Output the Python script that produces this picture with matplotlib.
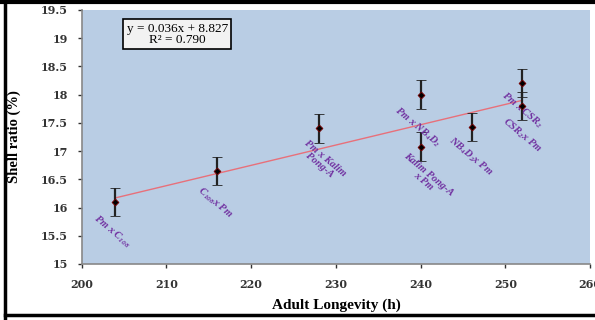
import matplotlib.pyplot as plt
from matplotlib.lines import Line2D

plt.rcParams["mathtext.fontset"] = "custom"
plt.rcParams["mathtext.rm"] = "Liberation Serif:italic:bold"
plt.rcParams["mathtext.it"] = "Liberation Serif:italic:bold"

# adult longevity (h) vs shell ratio (%) for each cross
longevity = [204, 216, 228, 240, 240, 246, 252, 252]
shell_ratio = [16.1, 16.65, 17.4, 18.0, 17.08, 17.42, 18.2, 17.8]
shell_err = [0.25, 0.25, 0.25, 0.25, 0.25, 0.25, 0.25, 0.25]

cross_names = [r"Pm x C$_{108}$", r"C$_{108}$x Pm", "Pm x Kalim\nPong-A",
               r"Pm x NB$_4$D$_2$", "Kalim Pong-A\nx Pm", r"NB$_4$D$_2$x Pm",
               r"Pm x CSR$_2$", r"CSR$_2$x Pm"]
name_x = [203.6, 215.8, 228.4, 239.6, 240.6, 245.9, 252.0, 252.0]
name_y = [15.57, 16.08, 16.81, 17.43, 16.52, 16.90, 17.73, 17.28]

slope, intercept, r2 = 0.036, 8.827, 0.790

fig = plt.figure(figsize=(5.95, 3.2), dpi=100)
ax = fig.add_axes([0.137, 0.175, 0.855, 0.794])
ax.set_facecolor("#b9cde4")

x0, x1 = min(longevity), max(longevity)
ax.plot([x0, x1], [slope * x0 + intercept, slope * x1 + intercept],
        color="#e8707a", lw=1.0, zorder=2)
ax.errorbar(longevity, shell_ratio, yerr=shell_err, fmt="D", ms=3.5,
            color="black", mec="#7a0000", mew=0.6, ecolor="#222222",
            elinewidth=1.6, capsize=3.5, capthick=1.2, zorder=3)

for t, x, y in zip(cross_names, name_x, name_y):
    ax.text(x, y, t, rotation=-40, rotation_mode="anchor", ha="center",
            va="center", fontsize=7.5, color="#7030a0", style="italic",
            weight="bold", family="Liberation Serif", linespacing=1.0)

ax.text(0.188, 0.905, f"y = {slope:.3f}x + {intercept:.3f}\nR² = {r2:.3f}",
        transform=ax.transAxes, ha="center", va="center", fontsize=9.5,
        family="Liberation Serif", linespacing=0.9,
        bbox=dict(boxstyle="square,pad=0.25", fc="#f2f2f2", ec="black", lw=1.2))

ax.set_xlim(200, 260)
ax.set_ylim(15, 19.5)
ax.set_xticks(range(200, 261, 10))
ax.set_yticks([15 + 0.5 * i for i in range(10)])
ax.set_yticklabels(["15", "15.5", "16", "16.5", "17", "17.5", "18", "18.5", "19", "19.5"])
ax.tick_params(labelsize=8, colors="#333333", length=3, width=1)
for lab in ax.get_xticklabels() + ax.get_yticklabels():
    lab.set_family("DejaVu Serif")
    lab.set_weight("bold")
ax.tick_params(axis="x", pad=8)
ax.tick_params(axis="y", pad=7)
for s in ["top", "right"]:
    ax.spines[s].set_visible(False)
for s in ["left", "bottom"]:
    ax.spines[s].set_color("#888888")
    ax.spines[s].set_linewidth(1.2)

ax.set_xlabel("Adult Longevity (h)", fontsize=11, weight="bold",
              family="Liberation Serif")
ax.set_ylabel("Shell ratio (%)", fontsize=10.5, weight="bold",
              family="Liberation Serif")
ax.xaxis.set_label_coords(0.5, -0.135)
ax.yaxis.set_label_coords(-0.118, 0.5)

# table cell borders around the chart
fig.add_artist(Line2D([0, 1], [0.995, 0.995], color="black", lw=3))
fig.add_artist(Line2D([0.009, 0.009], [0, 0.995], color="black", lw=2.5))
fig.add_artist(Line2D([0.009, 1], [0.016, 0.016], color="black", lw=2.5))

fig.savefig("out.png", dpi=100)
